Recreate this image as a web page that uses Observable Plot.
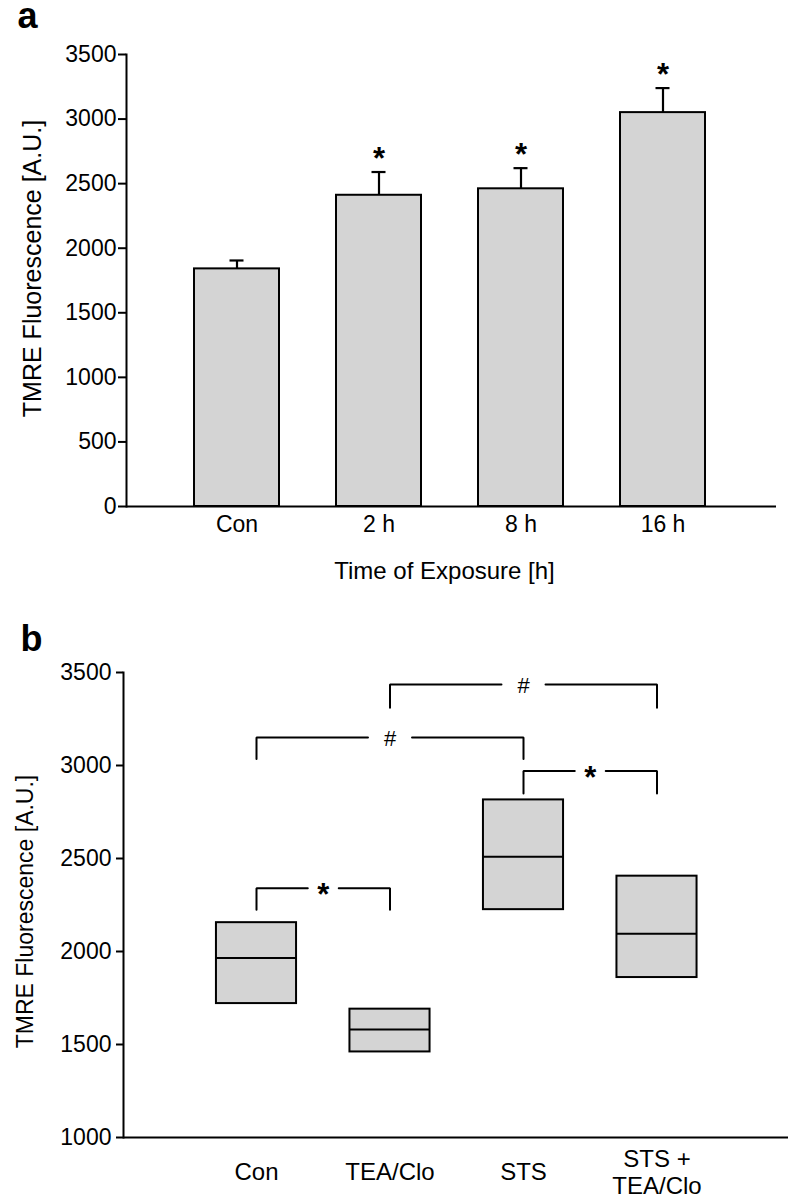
<!DOCTYPE html>
<html><head><meta charset="utf-8">
<script src="https://cdn.jsdelivr.net/npm/d3@7"></script>
<script src="https://cdn.jsdelivr.net/npm/@observablehq/plot@0.6"></script>
<style>
body{margin:0;background:#fff;}
#wrap{position:relative;width:790px;height:1199px;overflow:hidden;background:#fff;}
#pa,#pb{position:absolute;left:0;}
#pa{top:0}#pb{top:600px}
</style></head><body><div id="wrap"><div id="pa"></div><div id="pb"></div></div>
<script>
const FONT = '"Liberation Sans", Arial, Helvetica, sans-serif';
const FILL = "#d4d4d4";
const yLabel = "TMRE Fluorescence [A.U.]";

// ---- Panel a data ----
const catsA = ["Con", "2 h", "8 h", "16 h"];
const meansA = [1840, 2410, 2460, 3050];
const errsA = [65, 180, 160, 190];
const sigA = ["", "*", "*", "*"];
const yTicksA = [0, 500, 1000, 1500, 2000, 2500, 3000, 3500];
const xLabelA = "Time of Exposure [h]";

// ---- Panel b data ----
const catsB = ["Con", "TEA/Clo", "STS", "STS +\nTEA/Clo"];
const lowB = [1720, 1460, 2225, 1860];
const medB = [1965, 1580, 2510, 2095];
const highB = [2155, 1690, 2815, 2405];
const yTicksB = [1000, 1500, 2000, 2500, 3000, 3500];
const brFrom = ["Con", "Con", "TEA/Clo", "STS"];
const brTo = ["TEA/Clo", "STS", "STS +\nTEA/Clo", "STS +\nTEA/Clo"];
const brTop = [2340, 3150, 3435, 2970];
const brLeg = [2225, 3035, 3310, 2850];
const brSym = ["*", "#", "#", "*"];

const dataA = catsA.map((c, i) => ({cat: c, mean: meansA[i], err: errsA[i], sig: sigA[i]}));

const plotA = Plot.plot({
  width: 790, height: 600,
  marginTop: 54, marginBottom: 94, marginLeft: 126, marginRight: 14,
  style: {fontFamily: FONT, color: "black", background: "white", overflow: "visible"},
  x: {type: "band", domain: catsA, range: [165.4, 734.6], paddingInner: 0.4, paddingOuter: 0.2, axis: null},
  y: {domain: [0, 3500], axis: null},
  marks: [
    Plot.barY(dataA, {x: "cat", y: "mean", fill: FILL, stroke: "black", strokeWidth: 2}),
    Plot.ruleX(dataA, {x: "cat", y1: "mean", y2: d => d.mean + d.err, stroke: "black", strokeWidth: 2.2}),
    Plot.tickY(dataA, {x: "cat", y: d => d.mean + d.err, stroke: "black", strokeWidth: 2.2, insetLeft: 35.5, insetRight: 35.5}),
    Plot.text(dataA, {x: "cat", y: d => d.mean + d.err, text: "sig", fontSize: 31, fontWeight: "bold", lineAnchor: "bottom", dy: -3}),
    Plot.frame({anchor: "left", strokeWidth: 2}),
    Plot.ruleY([0], {strokeWidth: 2}),
    Plot.axisY({ticks: yTicksA, tickFormat: d => String(d), tickSize: 8, tickPadding: 2, fontSize: 23, strokeWidth: 2, label: null}),
    Plot.text(catsA, {x: d => d, text: d => d, frameAnchor: "bottom", textAnchor: "middle", lineAnchor: "top", dy: 9, fontSize: 23}),
    Plot.text([xLabelA], {text: d => d, frameAnchor: "bottom", textAnchor: "middle", lineAnchor: "top", dy: 55, dx: -7, fontSize: 24}),
    Plot.text([yLabel], {text: d => d, frameAnchor: "left", textAnchor: "middle", lineAnchor: "middle", rotate: -90, dx: -94, dy: -12, fontSize: 25}),
    Plot.text(["a"], {text: d => d, frameAnchor: "top-left", textAnchor: "start", lineAnchor: "bottom", dx: -109, dy: -27, fontSize: 36, fontWeight: "bold"})
  ]
});
document.getElementById("pa").appendChild(plotA);

// ---- Panel b ----
const HALF = 0.3;      // half box width (x units)
const GAP_STAR = 0.116, GAP_HASH = 0.165;
const dataB = catsB.map((c, i) => ({i, cat: c, low: lowB[i], med: medB[i], high: highB[i]}));
const segs = [], syms = [];
brFrom.forEach((a, k) => {
  const ia = catsB.indexOf(a), ib = catsB.indexOf(brTo[k]);
  const mid = (ia + ib) / 2;
  const g = brSym[k] === "#" ? GAP_HASH : GAP_STAR;
  segs.push({k: k + "L", x: ia, y: brLeg[k]}, {k: k + "L", x: ia, y: brTop[k]}, {k: k + "L", x: mid - g, y: brTop[k]});
  segs.push({k: k + "R", x: mid + g, y: brTop[k]}, {k: k + "R", x: ib, y: brTop[k]}, {k: k + "R", x: ib, y: brLeg[k]});
  syms.push({x: mid, y: brTop[k], s: brSym[k]});
});

const plotB = Plot.plot({
  width: 790, height: 599,
  marginTop: 72, marginBottom: 62, marginLeft: 123, marginRight: 2,
  style: {fontFamily: FONT, color: "black", background: "white", overflow: "visible"},
  x: {type: "linear", domain: [0, 3], range: [256, 656.5], axis: null},
  y: {domain: [1000, 3500], axis: null},
  marks: [
    Plot.rect(dataB, {x1: d => d.i - HALF, x2: d => d.i + HALF, y1: "low", y2: "high", fill: FILL, stroke: "black", strokeWidth: 2}),
    Plot.ruleY(dataB, {x1: d => d.i - HALF, x2: d => d.i + HALF, y: "med", stroke: "black", strokeWidth: 2}),
    Plot.line(segs, {x: "x", y: "y", z: "k", stroke: "black", strokeWidth: 2, strokeLinejoin: "miter"}),
    Plot.text(syms.filter(d => d.s === "*"), {x: "x", y: "y", text: "s", fontSize: 31, fontWeight: "bold", lineAnchor: "bottom", dy: 17}),
    Plot.text(syms.filter(d => d.s === "#"), {x: "x", y: "y", text: "s", fontSize: 22, lineAnchor: "bottom", dy: 8}),
    Plot.frame({anchor: "left", strokeWidth: 2}),
    Plot.ruleY([1000], {strokeWidth: 2}),
    Plot.axisY({ticks: yTicksB, tickFormat: d => String(d), tickSize: 7, tickPadding: 5, fontSize: 23, strokeWidth: 2, label: null}),
    Plot.text(catsB, {x: (d, i) => i, text: d => d, frameAnchor: "bottom", textAnchor: "middle", lineAnchor: "middle", lineHeight: 1.15, dy: 34, fontSize: 24}),
    Plot.text([yLabel], {text: d => d, frameAnchor: "left", textAnchor: "middle", lineAnchor: "middle", rotate: -90, dx: -98, dy: 6.5, fontSize: 23}),
    Plot.text(["b"], {text: d => d, frameAnchor: "top-left", textAnchor: "start", lineAnchor: "bottom", dx: -103, dy: -22, fontSize: 36, fontWeight: "bold"})
  ]
});
document.getElementById("pb").appendChild(plotB);
</script></body></html>
